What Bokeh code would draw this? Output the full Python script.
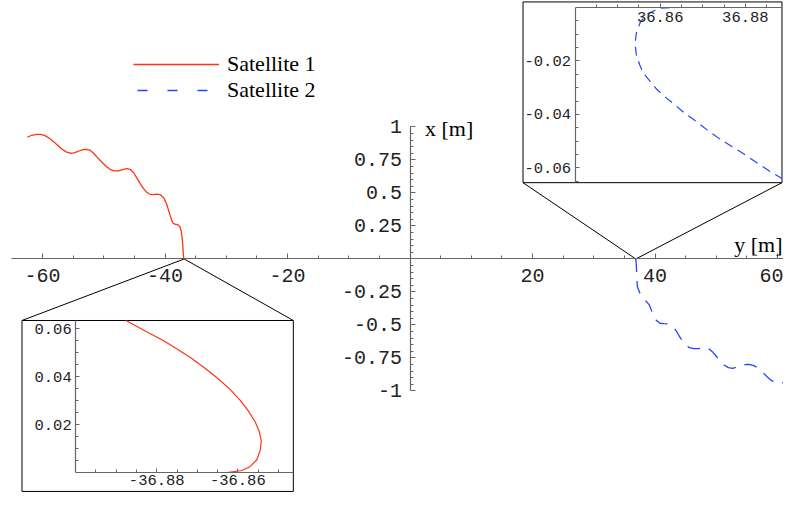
from bokeh.plotting import figure
from bokeh.models import (LinearAxis, Range1d, FixedTicker, PrintfTickFormatter,
                          Legend, LegendItem, Label)
from bokeh.embed import file_html
from bokeh.resources import INLINE

# ---------------- data (horizontal = y [m], vertical = x [m]) ----------------
sat1_y_m = [-62.48, -61.77, -60.95, -60.30, -59.59, -58.88, -58.23, -57.58, -56.87, -56.16,
            -55.51, -54.86, -54.15, -53.44, -52.79, -52.24, -51.70, -51.05, -50.34, -49.63,
            -48.98, -48.33, -47.62, -46.91, -46.26, -45.71, -45.17, -44.63, -44.08, -43.54,
            -42.99, -42.45, -41.90, -41.25, -40.71, -40.16, -39.73, -39.35, -39.02, -38.75,
            -38.37, -37.93, -37.55, -37.33, -37.17, -37.06, -37.01, -36.93, -36.862]
sat1_x_m = [0.922, 0.937, 0.944, 0.944, 0.934, 0.914, 0.889, 0.864, 0.833, 0.811,
            0.801, 0.803, 0.816, 0.828, 0.831, 0.823, 0.803, 0.770, 0.735, 0.702,
            0.679, 0.667, 0.667, 0.677, 0.684, 0.679, 0.657, 0.616, 0.573, 0.535,
            0.505, 0.490, 0.487, 0.492, 0.485, 0.460, 0.414, 0.359, 0.308, 0.275,
            0.263, 0.260, 0.242, 0.207, 0.144, 0.081, 0.030, 0.008, 0.0]

sat2_y_m = [36.862, 36.95, 37.02, 37.12, 37.55, 38.37, 39.07, 39.62, 40.16, 40.82,
            41.47, 42.18, 42.99, 43.54, 44.19, 44.90, 45.61, 46.37, 47.07, 47.89,
            48.71, 49.36, 49.96, 50.61, 51.27, 51.97, 52.68, 53.44, 54.42, 55.35,
            56.16, 56.87, 57.58, 58.34, 59.05, 59.86, 60.68, 61.50, 62.31]
sat2_x_m = [0.0, -0.045, -0.121, -0.210, -0.260, -0.311, -0.348, -0.412, -0.462, -0.487,
            -0.490, -0.492, -0.513, -0.551, -0.601, -0.646, -0.672, -0.679, -0.679, -0.672,
            -0.677, -0.702, -0.735, -0.773, -0.803, -0.823, -0.828, -0.818, -0.801, -0.798,
            -0.808, -0.828, -0.859, -0.894, -0.922, -0.937, -0.939, -0.932, -0.922]

# zoom of satellite 1 near the y axis crossing
zoom1_y_m = [-36.8623, -36.8590, -36.8570, -36.8553, -36.8545, -36.8542, -36.8547, -36.8557,
             -36.8574, -36.8594, -36.8619, -36.8652, -36.8685, -36.8718, -36.8751, -36.8784,
             -36.8817, -36.8850, -36.8876]
zoom1_x_m = [0.0, 0.0008, 0.0024, 0.0053, 0.0091, 0.0131, 0.0171, 0.0211,
             0.0257, 0.0301, 0.0347, 0.0397, 0.0441, 0.0481, 0.0517, 0.0551,
             0.0581, 0.0611, 0.0635]

# zoom of satellite 2 near the y axis crossing
zoom2_y_m = [36.8623, 36.8600, 36.8573, 36.8554, 36.8544, 36.8541, 36.8544, 36.8552,
             36.8561, 36.8577, 36.8592, 36.8611, 36.8635, 36.8658, 36.8685, 36.8711,
             36.8738, 36.8769, 36.8800, 36.8835, 36.8865, 36.8886]
zoom2_x_m = [0.0, -0.0002, -0.0021, -0.0052, -0.0096, -0.0134, -0.0177, -0.0215,
             -0.0246, -0.0277, -0.0306, -0.0334, -0.0365, -0.0396, -0.0427, -0.0459,
             -0.0490, -0.0521, -0.0552, -0.0590, -0.0621, -0.0640]

series_labels = ["Satellite 1", "Satellite 2"]
axis_title_h = "y [m]"
axis_title_v = "x [m]"

# ticks
main_h_ticks = [-60, -40, -20, 20, 40, 60]
main_h_minor = [-55, -50, -45, -35, -30, -25, -15, -10, -5, 5, 10, 15, 25, 30, 35, 45, 50, 55]
main_v_ticks = [-1, -0.75, -0.5, -0.25, 0.25, 0.5, 0.75, 1]
main_v_minor = [-0.95, -0.9, -0.85, -0.8, -0.7, -0.65, -0.6, -0.55, -0.45, -0.4, -0.35, -0.3,
                -0.2, -0.15, -0.1, -0.05, 0.05, 0.1, 0.15, 0.2, 0.3, 0.35, 0.4, 0.45,
                0.55, 0.6, 0.65, 0.7, 0.8, 0.85, 0.9, 0.95]
zoom1_h_ticks = [-36.88, -36.86]
zoom1_h_minor = [-36.895, -36.89, -36.885, -36.875, -36.87, -36.865, -36.855, -36.85]
zoom1_v_ticks = [0.02, 0.04, 0.06]
zoom1_v_minor = [0.005, 0.01, 0.015, 0.025, 0.03, 0.035, 0.045, 0.05, 0.055]
zoom2_h_ticks = [36.86, 36.88]
zoom2_h_minor = [36.845, 36.85, 36.855, 36.865, 36.87, 36.875, 36.885]
zoom2_v_ticks = [-0.06, -0.04, -0.02]
zoom2_v_minor = [-0.065, -0.055, -0.05, -0.045, -0.035, -0.03, -0.025, -0.015, -0.01, -0.005]

# zoom windows (inset data windows)
zoom1_window_h = (-36.900, -36.8463)
zoom1_window_v = (0.0, 0.0635)
zoom2_window_h = (36.84, 36.8886)
zoom2_window_v = (-0.0656, 0.0)
zoom1_anchor = (-36.87, 0.0)
zoom2_anchor = (36.87, 0.0)

# ---------------- layout (main-axis coordinates of the insets) ----------------
MAIN_H = (-66.86, 60.98)
MAIN_V = (-1.769, 1.958)
INSET1_AREA_H = (-54.58, -19.05)
INSET1_AREA_V = (-1.617, -0.466)
INSET1_BOX = dict(left=-63.35, right=-19.05, bottom=-1.761, top=-0.466)
INSET2_AREA_H = (26.94, 60.73)
INSET2_AREA_V = (0.578, 1.904)
INSET2_BOX = dict(left=18.45, right=60.73, bottom=0.578, top=1.947)

RED = "#ff3311"
BLUE = "#2244ff"
AXIS = "#666666"
LABEL = "#222222"
MONO = "Liberation Mono"
SERIF = "Liberation Serif"

p = figure(width=783, height=492, x_range=Range1d(*MAIN_H), y_range=Range1d(*MAIN_V),
           x_axis_type=None, y_axis_type=None, toolbar_location=None,
           output_backend="svg", min_border=0, outline_line_color=None,
           background_fill_color="white", border_fill_color="white")


def sub_range(full, area, window):
    k = (window[1] - window[0]) / (area[1] - area[0])
    return Range1d(start=window[0] + (full[0] - area[0]) * k,
                   end=window[0] + (full[1] - area[0]) * k)


p.extra_x_ranges = {"z1h": sub_range(MAIN_H, INSET1_AREA_H, zoom1_window_h),
                    "z2h": sub_range(MAIN_H, INSET2_AREA_H, zoom2_window_h)}
p.extra_y_ranges = {"z1v": sub_range(MAIN_V, INSET1_AREA_V, zoom1_window_v),
                    "z2v": sub_range(MAIN_V, INSET2_AREA_V, zoom2_window_v)}


def make_axis(xr, yr, side, loc, bounds, ticks, minor, size, standoff, tin, tmin):
    ax = LinearAxis(x_range_name=xr, y_range_name=yr, fixed_location=loc, bounds=bounds,
                    ticker=FixedTicker(ticks=ticks, minor_ticks=minor),
                    formatter=PrintfTickFormatter(format="%g"),
                    axis_line_color=AXIS, axis_line_width=1.2,
                    major_tick_line_color=AXIS, minor_tick_line_color=AXIS,
                    major_tick_in=tin, major_tick_out=0, minor_tick_in=tmin, minor_tick_out=0,
                    major_label_text_font=MONO, major_label_text_font_size=size,
                    major_label_text_color=LABEL, major_label_standoff=standoff)
    p.add_layout(ax, side)


# main axes
make_axis("default", "default", "below", 0, (-65.1, MAIN_H[1]), main_h_ticks, main_h_minor, "20px", 10, 5, 3)
make_axis("default", "default", "left", 0, (-1, 1), main_v_ticks, main_v_minor, "20px", 8, 5, 3)
# inset 1 axes
make_axis("z1h", "z1v", "below", zoom1_window_v[0], zoom1_window_h, zoom1_h_ticks, zoom1_h_minor, "15.5px", 3, 4, 3)
make_axis("z1h", "z1v", "left", zoom1_window_h[0], zoom1_window_v, zoom1_v_ticks, zoom1_v_minor, "15.5px", 4, 4, 3)
# inset 2 axes
make_axis("z2h", "z2v", "below", zoom2_window_v[1], zoom2_window_h, zoom2_h_ticks, zoom2_h_minor, "15.5px", 4, 4, 3)
make_axis("z2h", "z2v", "left", zoom2_window_h[0], zoom2_window_v, zoom2_v_ticks, zoom2_v_minor, "15.5px", 4, 4, 3)

# inset frames and connector lines
for box, anchor in ((INSET1_BOX, zoom1_anchor), (INSET2_BOX, zoom2_anchor)):
    p.quad(left=[box["left"]], right=[box["right"]], bottom=[box["bottom"]], top=[box["top"]],
           fill_color=None, line_color="black", line_width=1)
    edge = box["top"] if anchor[1] > box["top"] else box["bottom"]
    p.segment(x0=[anchor[0], anchor[0]], y0=[anchor[1], anchor[1]],
              x1=[box["left"], box["right"]], y1=[edge, edge],
              line_color="black", line_width=1)

# main curves
p.line(sat1_y_m, sat1_x_m, line_color=RED, line_width=1.3)
p.line(sat2_y_m, sat2_x_m, line_color=BLUE, line_width=1.3, line_dash="13 9")
# inset curves
p.line(zoom1_y_m, zoom1_x_m, line_color=RED, line_width=1.2, x_range_name="z1h", y_range_name="z1v")
p.line(zoom2_y_m, zoom2_x_m, line_color=BLUE, line_width=1.2, line_dash="9 6",
       x_range_name="z2h", y_range_name="z2v")

# axis titles
p.add_layout(Label(x=0, y=1, text=axis_title_v, x_offset=15, y_offset=-2,
                   text_font=SERIF, text_font_size="22px", text_color="black",
                   text_baseline="alphabetic", text_align="left"))
p.add_layout(Label(x=MAIN_H[1], y=0, text=axis_title_h, x_offset=-1, y_offset=14,
                   text_font=SERIF, text_font_size="22px", text_color="black",
                   text_baseline="alphabetic", text_align="right"))

# legend (own glyph styles; NaN point so nothing is drawn in the plot)
nan = float("nan")
leg1 = p.line(x=[nan], y=[nan], line_color=RED, line_width=1.3)
leg2 = p.line(x=[nan], y=[nan], line_color=BLUE, line_width=1.3, line_dash="10 20", line_dash_offset=26)
legend = Legend(items=[LegendItem(label=series_labels[0], renderers=[leg1]),
                       LegendItem(label=series_labels[1], renderers=[leg2])],
                location=(133, 389), orientation="vertical",
                glyph_width=86, glyph_height=20, label_height=20, label_standoff=8,
                padding=0, margin=0, spacing=0,
                border_line_alpha=0, background_fill_alpha=0,
                label_text_font=SERIF, label_text_font_size="22px", label_text_color="black")
p.add_layout(legend)

open("out.html", "w").write(file_html(p, INLINE))
